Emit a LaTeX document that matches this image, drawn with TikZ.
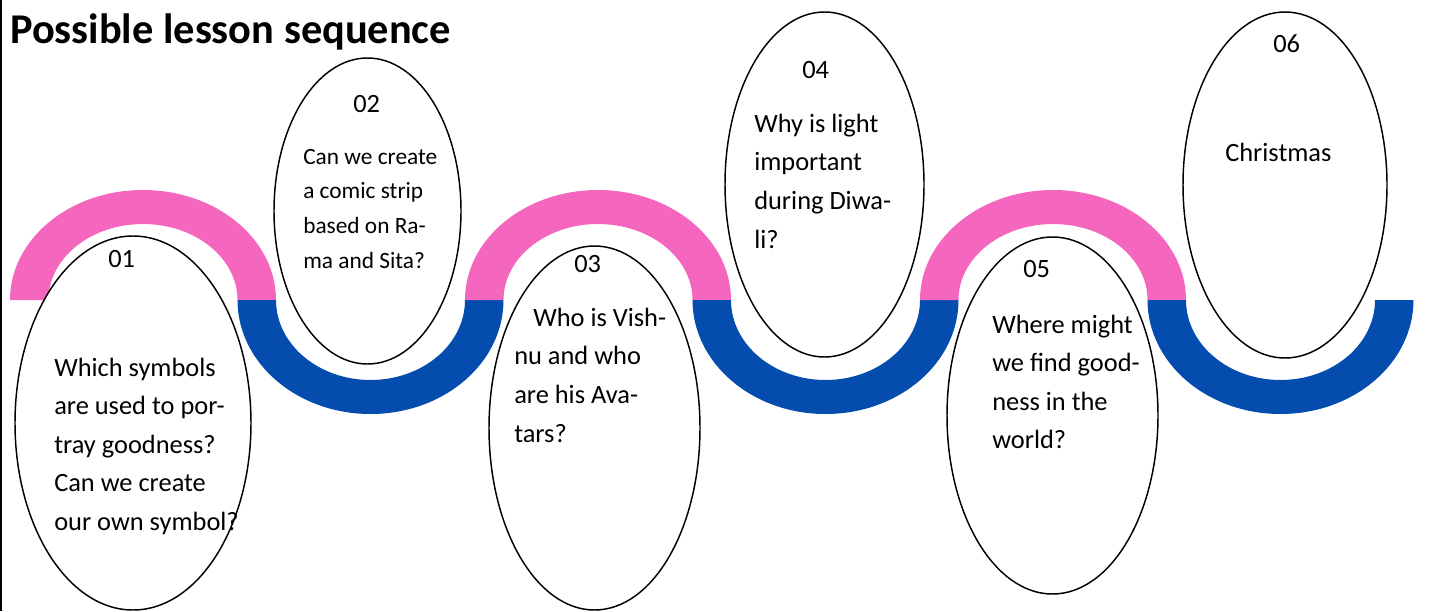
\documentclass[tikz,border=0pt]{standalone}
\usepackage{fontspec}
\setmainfont{Carlito}
\usetikzlibrary{shapes.geometric}
\definecolor{wpink}{RGB}{245,102,190}
\definecolor{wblue}{RGB}{4,76,174}
\newcommand{\pinkband}[1]{%
  \fill[wpink] ({#1-133},300) arc[start angle=180,end angle=0,x radius=99.75pt,y radius=82.5pt]
    -- ({#1+94.5},300) arc[start angle=0,end angle=180,x radius=70.875pt,y radius=57pt] -- cycle;}
\newcommand{\blueband}[1]{%
  \fill[wblue] ({#1-133},300) arc[start angle=180,end angle=360,x radius=99.75pt,y radius=85.5pt]
    -- ({#1+94.5},300) arc[start angle=0,end angle=-180,x radius=70.875pt,y radius=60pt] -- cycle;}
\begin{document}
\begin{tikzpicture}[x=0.75pt,y=-0.75pt,
  bubble/.style={ellipse,draw=black,fill=white,line width=1.1pt,inner sep=0pt},
  txt/.style={anchor=base west,inner sep=0pt,font=\fontsize{19.8}{23}\selectfont},
  smalltxt/.style={anchor=base west,inner sep=0pt,font=\fontsize{17.5}{21}\selectfont},
  titletxt/.style={anchor=base west,inner sep=0pt,font=\bfseries\fontsize{31.8}{38}\selectfont}]
\useasboundingbox (0,0) rectangle (1447,611);
\fill[white] (0,0) rectangle (1447,611);
\draw[line width=1.5pt] (1,0) -- (1,611);
% wave
\pinkband{143}
\blueband{370.5}
\pinkband{598}
\blueband{825.5}
\pinkband{1053}
\blueband{1280.5}
% title
\node[titletxt] (title) at (10,43) {Possible lesson sequence};
% bubbles
\node[bubble,minimum width=177pt,minimum height=280.5pt] (e1) at (133,423) {};
\node[bubble,minimum width=140.25pt,minimum height=229.5pt] (e2) at (367.5,211) {};
\node[bubble,minimum width=158.25pt,minimum height=273pt] (e3) at (594.5,428) {};
\node[bubble,minimum width=149.25pt,minimum height=258.75pt] (e4) at (824.5,184.5) {};
\node[bubble,minimum width=158.25pt,minimum height=267.75pt] (e5) at (1052.5,415.5) {};
\node[bubble,minimum width=153pt,minimum height=259.5pt] (e6) at (1285,185) {};
% numbers
\node[txt] (n1) at (108,267) {01};
\node[txt] (n2) at (353,112) {02};
\node[txt] (n3) at (574,272) {03};
\node[txt] (n4) at (802,78) {04};
\node[txt] (n5) at (1023,277) {05};
\node[txt] (n6) at (1273,52) {06};
% texts
\foreach \t [count=\i from 0] in {Which symbols,are used to por-,tray goodness?,Can we create,our own symbol?}
  \node[txt] (t1-\i) at (54,{376+38.5*\i}) {\t};
\foreach \t [count=\i from 0] in {Can we create,a comic strip,based on Ra-,ma and Sita?}
  \node[smalltxt] (t2-\i) at (303,{164+34.7*\i}) {\t};
\node[txt] (t3-0) at (533,326) {Who is Vish-};
\foreach \t [count=\i from 1] in {nu and who,are his Ava-,tars?}
  \node[txt] (t3-\i) at (514,{326+38.7*\i}) {\t};
\foreach \t [count=\i from 0] in {Why is light,important,during Diwa-,li?}
  \node[txt] (t4-\i) at (754,{132+38.7*\i}) {\t};
\foreach \t [count=\i from 0] in {Where might,we find good-,ness in the,world?}
  \node[txt] (t5-\i) at (992,{333+38.5*\i}) {\t};
\node[txt] (t6-0) at (1225,161) {Christmas};
\end{tikzpicture}
\end{document}
